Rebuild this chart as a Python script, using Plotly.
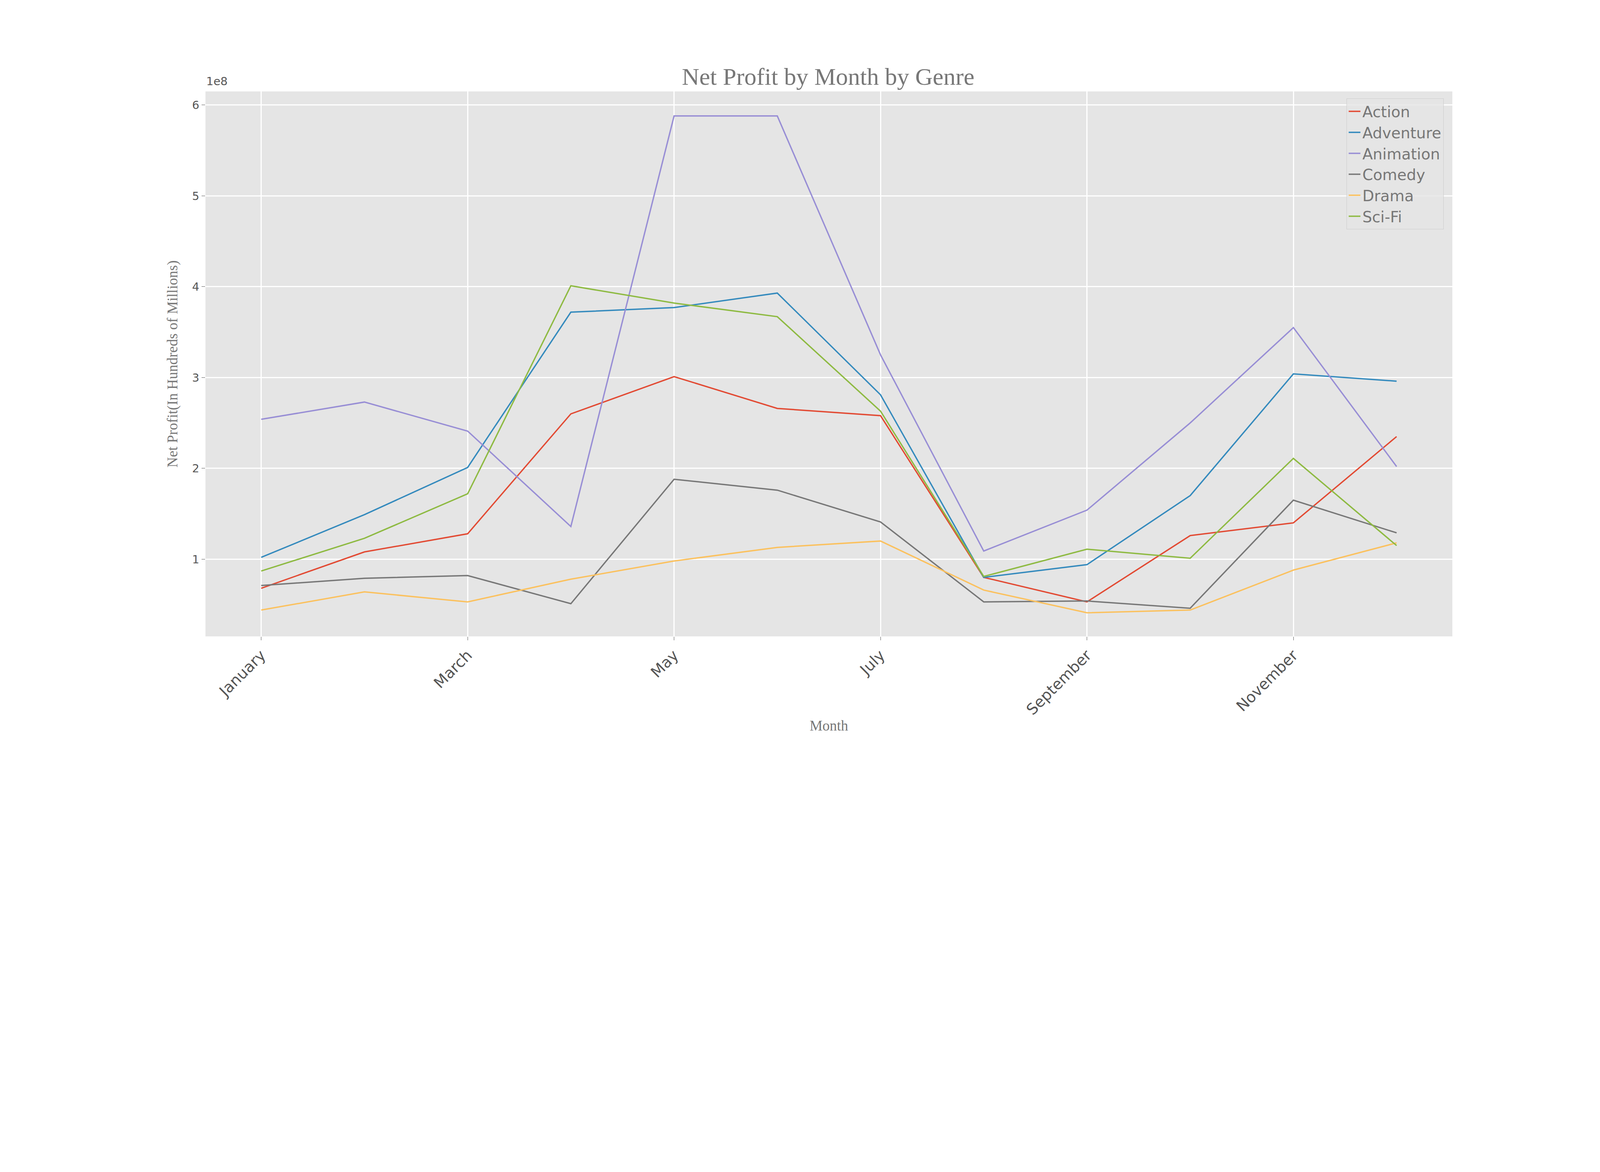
import plotly.graph_objects as go

months = ["January", "February", "March", "April", "May", "June", "July",
          "August", "September", "October", "November", "December"]
shown_months = ["January", "March", "May", "July", "September", "November"]

# net profit in hundreds of millions
action = [0.68, 1.08, 1.28, 2.60, 3.01, 2.66, 2.58, 0.80, 0.53, 1.26, 1.40, 2.35]
adventure = [1.02, 1.49, 2.01, 3.72, 3.77, 3.93, 2.81, 0.80, 0.94, 1.70, 3.04, 2.96]
animation = [2.54, 2.73, 2.41, 1.36, 5.88, 5.88, 3.25, 1.09, 1.54, 2.50, 3.55, 2.02]
comedy = [0.71, 0.79, 0.82, 0.51, 1.88, 1.76, 1.41, 0.53, 0.54, 0.46, 1.65, 1.29]
drama = [0.44, 0.64, 0.53, 0.78, 0.98, 1.13, 1.20, 0.66, 0.41, 0.44, 0.88, 1.18]
scifi = [0.87, 1.23, 1.72, 4.01, 3.82, 3.67, 2.63, 0.81, 1.11, 1.01, 2.11, 1.15]

series = [("Action", action, "#E24A33"), ("Adventure", adventure, "#348ABD"),
          ("Animation", animation, "#988ED5"), ("Comedy", comedy, "#777777"),
          ("Drama", drama, "#FBC15E"), ("Sci-Fi", scifi, "#8EBA42")]

fig = go.Figure()
for name, vals, col in series:
    fig.add_trace(go.Scatter(x=months, y=[v * 1e8 for v in vals], name=name,
                             mode="lines", line=dict(color=col, width=3.5)))

fig.update_layout(
    width=4125, height=1875,
    paper_bgcolor="white", plot_bgcolor="#E5E5E5",
    margin=dict(l=518, r=415, t=226, b=238),
    title=dict(text="Net Profit by Month by Genre", x=0.512, xanchor="center",
               y=0.9, yanchor="middle",
               font=dict(family="Liberation Serif", size=62, color="#777777")),
    legend=dict(x=0.993, y=0.987, xanchor="right", yanchor="top",
                bgcolor="rgba(229,229,229,0.8)", bordercolor="#CCCCCC", borderwidth=1,
                font=dict(family="DejaVu Sans", size=39, color="#777777")),
    showlegend=True,
)
fig.update_xaxes(
    tickvals=shown_months, ticktext=shown_months, tickangle=-45,
    range=[-0.54, 11.54], showgrid=True, gridcolor="white", gridwidth=2.5,
    ticks="outside", ticklen=9, tickcolor="#555555",
    tickfont=dict(family="DejaVu Sans", size=39, color="#555555"),
    title=dict(text="Month", font=dict(family="Liberation Serif", size=37, color="#777777"),
               standoff=6),
)
fig.update_yaxes(
    tickvals=[1e8, 2e8, 3e8, 4e8, 5e8, 6e8], ticktext=["1", "2", "3", "4", "5", "6"],
    range=[0.15e8, 6.15e8], showgrid=True, gridcolor="white", gridwidth=2.5,
    ticks="outside", ticklen=9, tickcolor="#555555", zeroline=False,
    tickfont=dict(family="DejaVu Sans", size=29, color="#555555"),
    title=dict(text="Net Profit(In Hundreds of Millions)",
               font=dict(family="Liberation Serif", size=37, color="#777777"), standoff=25),
)
fig.add_annotation(text="1e8", xref="paper", yref="paper", x=0, y=1.005,
                   xanchor="left", yanchor="bottom", showarrow=False,
                   font=dict(family="DejaVu Sans", size=29, color="#555555"))

fig.write_html("out.html")
